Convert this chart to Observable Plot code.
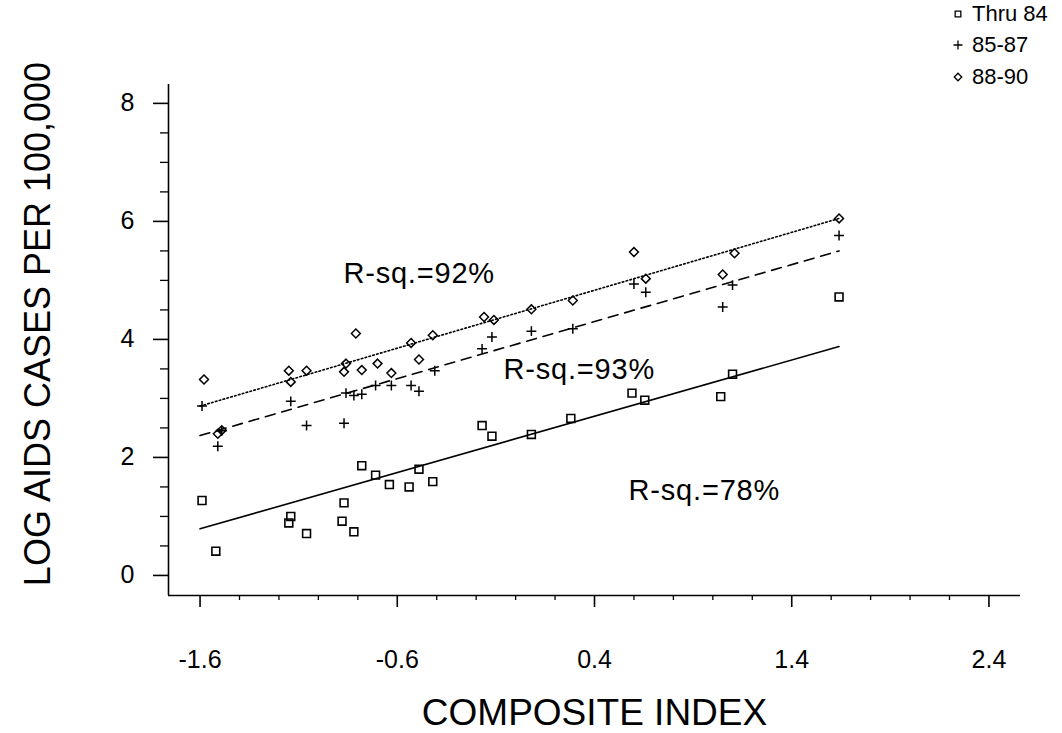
<!DOCTYPE html>
<html><head><meta charset="utf-8">
<script src="https://cdn.jsdelivr.net/npm/d3@7"></script>
<script src="https://cdn.jsdelivr.net/npm/@observablehq/plot@0.6"></script>
<style>
body{margin:0;background:#fff;font-family:"Liberation Sans",Arial,sans-serif;}
#wrap{position:relative;width:1062px;height:733px;}
#legend{position:absolute;left:951px;top:-2px;font-size:22px;color:#000;}
#legend .row{height:31.5px;display:flex;align-items:center;}
#legend svg{width:14px;height:14px;margin-right:7px;overflow:visible;}
</style></head><body><div id="wrap"><div id="legend"></div></div>
<script>
// ---- data ----
const seriesNames = ["Thru 84", "85-87", "88-90"];

const thru84X = [-1.59,-1.52,-1.15,-1.14,-1.06,-0.88,-0.87,-0.82,-0.78,-0.71,-0.64,-0.54,-0.49,-0.42,-0.17,-0.12,0.08,0.28,0.59,0.655,1.04,1.10,1.64];
const thru84Y = [1.27,0.41,0.89,1.00,0.71,0.92,1.23,0.74,1.86,1.70,1.54,1.50,1.80,1.59,2.54,2.36,2.39,2.66,3.09,2.97,3.03,3.41,4.72];

const s8587X = [-1.59,-1.51,-1.49,-1.14,-1.06,-0.87,-0.86,-0.82,-0.78,-0.71,-0.63,-0.53,-0.49,-0.41,-0.17,-0.12,0.08,0.29,0.60,0.66,1.05,1.10,1.64];
const s8587Y = [2.87,2.19,2.45,2.95,2.54,2.58,3.09,3.05,3.07,3.22,3.22,3.22,3.12,3.47,3.84,4.04,4.14,4.18,4.94,4.80,4.55,4.92,5.76];

const s8890X = [-1.58,-1.51,-1.49,-1.15,-1.14,-1.06,-0.87,-0.86,-0.81,-0.78,-0.70,-0.63,-0.53,-0.49,-0.42,-0.16,-0.11,0.08,0.29,0.60,0.66,1.05,1.11,1.64];
const s8890Y = [3.32,2.40,2.46,3.47,3.28,3.47,3.45,3.59,4.10,3.48,3.59,3.43,3.94,3.66,4.07,4.38,4.33,4.51,4.66,5.48,5.03,5.10,5.46,6.05];

// fitted lines (end points)
const fitX = [-1.6, 1.64];
const fitThru84 = [0.79, 3.88];
const fit8587 = [2.37, 5.50];
const fit8890 = [2.87, 6.05];

const rsqLabels = ["R-sq.=92%", "R-sq.=93%", "R-sq.=78%"];
const rsqX = [-0.873, -0.061, 0.573];
const rsqY = [5.12, 3.48, 1.44];

const xMajorTicks = [-1.6, -0.6, 0.4, 1.4, 2.4];
const xMinorTicks = [-1.4,-1.2,-1.0,-0.8,-0.4,-0.2,0.0,0.2,0.6,0.8,1.0,1.2,1.6,1.8,2.0,2.2];
const yMajorTicks = [0, 2, 4, 6, 8];
const yMinorTicks = [0.5,1,1.5,2.5,3,3.5,4.5,5,5.5,6.5,7,7.5];

const xDomain = [-1.76, 2.56];
const yDomain = [-0.34, 8.32];

const xTitle = "COMPOSITE INDEX";
const yTitle = "LOG AIDS CASES PER 100,000";

// ---- build tables ----
const pts = (xs, ys) => xs.map((x, i) => ({x, y: ys[i]}));
const d84 = pts(thru84X, thru84Y);
const d87 = pts(s8587X, s8587Y);
const d90 = pts(s8890X, s8890Y);
const l84 = pts(fitX, fitThru84);
const l87 = pts(fitX, fit8587);
const l90 = pts(fitX, fit8890);
const ann = rsqLabels.map((t, i) => ({t, x: rsqX[i], y: rsqY[i]}));

const chart = Plot.plot({
  width: 1062,
  height: 733,
  marginLeft: 168,
  marginRight: 42,
  marginTop: 84,
  marginBottom: 138,
  style: {fontFamily: "'Liberation Sans', Arial, sans-serif", color: "#000", background: "#fff"},
  x: {domain: xDomain},
  y: {domain: yDomain},
  marks: [
    Plot.ruleX([xDomain[0]], {stroke: "#000", strokeWidth: 1.6}),
    Plot.ruleY([yDomain[0]], {stroke: "#000", strokeWidth: 1.6}),
    Plot.axisX({ticks: xMajorTicks, tickSize: 12, tickPadding: 43, fontSize: 25, strokeWidth: 1.6,
      tickFormat: d => d.toFixed(1), label: null}),
    Plot.axisX({ticks: xMinorTicks, tickSize: 5, tickFormat: () => "", label: null, strokeWidth: 1.3}),
    Plot.axisY({ticks: yMajorTicks, tickSize: 15, tickPadding: 19, fontSize: 25, strokeWidth: 1.6,
      tickFormat: d => String(d), label: null}),
    Plot.axisY({ticks: yMinorTicks, tickSize: 8, tickFormat: () => "", label: null, strokeWidth: 1.3}),
    Plot.line(l84, {x: "x", y: "y", stroke: "#000", strokeWidth: 1.6}),
    Plot.line(l87, {x: "x", y: "y", stroke: "#000", strokeWidth: 1.6, strokeDasharray: "10,7"}),
    Plot.line(l90, {x: "x", y: "y", stroke: "#000", strokeWidth: 1.6, strokeDasharray: "1.6,2.4"}),
    Plot.dot(d84, {x: "x", y: "y", symbol: "square2", r: 5, stroke: "#000", strokeWidth: 1.6}),
    Plot.dot(d87, {x: "x", y: "y", symbol: "plus", r: 3.3, stroke: "#000", strokeWidth: 1.5}),
    Plot.dot(d90, {x: "x", y: "y", symbol: "diamond2", r: 4, stroke: "#000", strokeWidth: 1.5}),
    Plot.text(ann, {x: "x", y: "y", text: "t", textAnchor: "start", lineAnchor: "middle", fontSize: 29, fill: "#000"}),
    Plot.text([xTitle], {frameAnchor: "bottom", textAnchor: "middle", dy: 118, lineAnchor: "middle", fontSize: 37, fill: "#000"}),
    Plot.text([yTitle], {frameAnchor: "left", textAnchor: "middle", rotate: -90, dx: -130, dy: -16, lineAnchor: "middle", fontSize: 36, fill: "#000"})
  ]
});
document.getElementById("wrap").appendChild(chart);
// slightly wider spacing for the R-sq annotations, as in the scanned original
d3.select(chart).selectAll("text").filter(function() { return /^R-sq/.test(this.textContent); })
  .attr("letter-spacing", "0.8");

// ---- legend ----
const legendSymbols = ["square2", "plus", "diamond2"];
const legendR = [3.6, 3, 3.4];
const legend = document.getElementById("legend");
seriesNames.forEach((name, i) => {
  const row = document.createElement("div");
  row.className = "row";
  const sym = d3.symbol(d3["symbol" + legendSymbols[i][0].toUpperCase() + legendSymbols[i].slice(1)], Math.PI * legendR[i] * legendR[i])();
  row.innerHTML = `<svg viewBox="-7 -7 14 14"><path d="${sym}" fill="none" stroke="#000" stroke-width="1.3"/></svg><span>${name}</span>`;
  legend.appendChild(row);
});
</script>
</body></html>
